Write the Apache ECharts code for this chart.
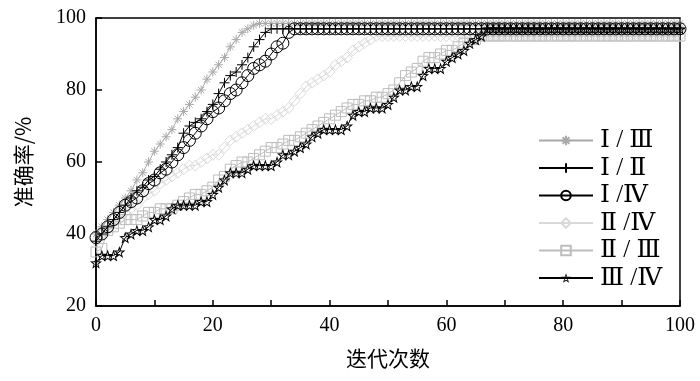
<!DOCTYPE html>
<html><head><meta charset="utf-8">
<script src="https://cdn.jsdelivr.net/npm/echarts@6/dist/echarts.min.js"></script>
<style>html,body{margin:0;padding:0;background:#fff}#c{width:700px;height:381px}</style>
</head><body><div id="c"></div>
<script>
var iterations = [];
for (var i = 0; i <= 100; i++) iterations.push(i);
function fill(arr, v) { while (arr.length < 101) arr.push(v); return arr; }

var names = ['Ⅰ / Ⅲ', 'Ⅰ / Ⅱ', 'Ⅰ /Ⅳ', 'Ⅱ /Ⅳ', 'Ⅱ / Ⅲ', 'Ⅲ /Ⅳ'];

var s13 = fill([40,42,44,46,48,50,52,55,57,60,63,65,67,69,72,74,76,78,80,83,85,87,89,92,94,96,97,98], 98.5);
var s12 = fill([38,40,42,44,46,48,50,52,53,55,56,58,60,62,64,68,70,71,72,74,76,79,82,84,85,87,89,92,94,96,97], 97);
var s14 = fill([39,40,42,44,46,48,49,50,52,54,55,57,58,60,62,64,66,68,70,72,74,75,77,79,80,82,84,86,87,88,90,92,93,96,97], 97);
var s24 = fill([38,40,41,42,44,46,47,48,50,51,52,54,55,56,57,58,59,59,60,61,62,62,64,66,67,68,69,70,71,72,72,73,74,75,77,79,81,82,83,84,85,87,88,89,91,92,93,94,95], 95);
var s23 = fill([35,36,41,42,43,44,44,44,45,46,46,47,47,47,48,49,50,51,51,52,53,55,56,58,59,60,60,61,62,63,64,64,65,66,66,67,68,69,70,71,72,73,74,75,76,76,77,77,78,78,79,80,82,84,85,86,88,89,89,90,91,91,92,93,94,94,95], 95);
var s34 = fill([32,34,34,34,35,39,40,41,41,42,44,44,45,47,48,48,48,48,49,49,51,53,55,57,57,57,58,59,59,59,59,60,62,62,63,64,65,67,68,69,69,69,69,70,73,74,74,75,75,75,76,78,80,80,81,81,84,86,86,86,88,89,90,91,93,94,95,97], 97);

var xTicks = [0, 20, 40, 60, 80, 100];

var SYM = {
  ast: 'path://M0,-10L0,10M-10,0L10,0M-7,-7L7,7M-7,7L7,-7',
  plus: 'path://M0,-10L0,10M-10,0L10,0',
  starRing: 'path://M0,-10L2.35,-3.24L9.51,-3.09L3.8,1.24L5.88,8.09L0,4L-5.88,8.09L-3.8,1.24L-9.51,-3.09L-2.35,-3.24Z' +
            'M0,-5.5L-1.29,-1.78L-5.23,-1.7L-2.09,0.68L-3.23,4.45L0,2.2L3.23,4.45L2.09,0.68L5.23,-1.7L1.29,-1.78Z'
};

function pairs(arr) { return arr.map(function (v, k) { return [iterations[k], v]; }); }
function mk(name, data, color, symbol, size, z, solid) {
  return {
    name: name, type: 'line', data: pairs(data), symbol: symbol, symbolSize: size,
    showAllSymbol: true, animation: false, z: z,
    lineStyle: { color: color, width: 1 },
    itemStyle: solid ? { color: color, borderWidth: 0 } : { color: 'none', borderColor: color, borderWidth: 1 }
  };
}

var chart = echarts.init(document.getElementById('c'));
chart.setOption({
  animation: false,
  grid: { left: 96, right: 20, top: 18, bottom: 75, show: true, borderColor: '#000', borderWidth: 1.5 },
  legend: {
    data: names, orient: 'vertical', left: 533, top: 123,
    itemWidth: 54, itemHeight: 12, itemGap: 2.5,
    textStyle: { fontFamily: 'Liberation Serif, DejaVu Serif, serif', fontSize: 25, color: '#000', padding: [0, 0, 0, 2] }
  },
  xAxis: {
    type: 'value', min: 0, max: 100, interval: 10,
    name: '迭代次数', nameLocation: 'middle', nameGap: 42,
    nameTextStyle: { fontFamily: 'Noto Sans CJK SC', fontSize: 21, color: '#000' },
    axisLine: { lineStyle: { color: '#000', width: 1.5 } },
    axisTick: { inside: true, length: 6, lineStyle: { color: '#000', width: 1.5 } },
    axisLabel: { margin: 10, color: '#000', fontFamily: 'Liberation Serif, serif', fontSize: 20,
      formatter: function (v) { return xTicks.indexOf(v) >= 0 ? String(v) : ''; } },
    splitLine: { show: false }
  },
  yAxis: {
    type: 'value', min: 20, max: 100, interval: 20,
    name: '准确率/%', nameLocation: 'middle', nameGap: 62, nameRotate: 90,
    nameTextStyle: { fontFamily: 'Noto Sans CJK SC', fontSize: 21, color: '#000' },
    axisLine: { lineStyle: { color: '#000', width: 1.5 } },
    axisTick: { inside: true, length: 6, lineStyle: { color: '#000', width: 1.5 } },
    axisLabel: { margin: 10, color: '#000', fontFamily: 'Liberation Serif, serif', fontSize: 20 },
    splitLine: { show: false }
  },
  series: [
    mk(names[3], s24, '#d9d9d9', 'diamond', 11, 1),
    mk(names[4], s23, '#bdbdbd', 'rect', 10, 2),
    mk(names[0], s13, '#a9a9a9', SYM.ast, 9, 3),
    mk(names[1], s12, '#000', SYM.plus, 10, 4),
    mk(names[2], s14, '#000', 'circle', 12, 5),
    mk(names[5], s34, '#000', SYM.starRing, 12, 6, true)
  ]
});
</script></body></html>
